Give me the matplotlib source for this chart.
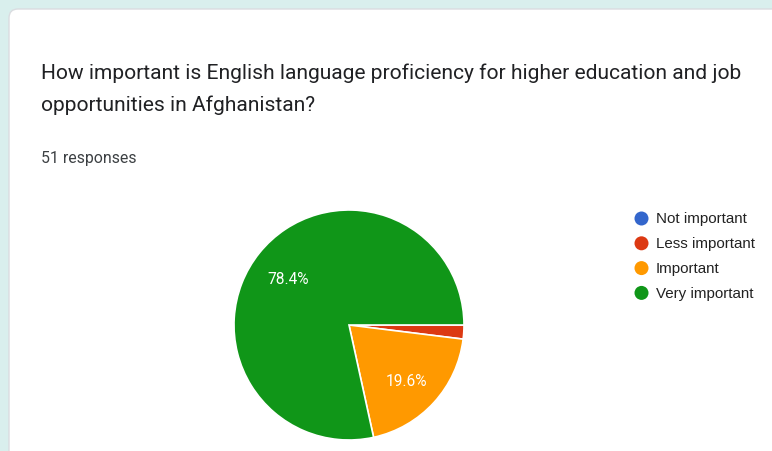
import matplotlib.pyplot as plt
from matplotlib.patches import FancyBboxPatch, Circle

# --- data ---
title_lines = ["How important is English language proficiency for higher education and job",
               "opportunities in Afghanistan?"]
n_responses = 51
labels = ["Not important", "Less important", "Important", "Very important"]
counts = [0, 1, 10, 40]
colors = ["#3366cc", "#dc3912", "#ff9900", "#109618"]

W, H = 772, 452
fig = plt.figure(figsize=(W / 100, H / 100), dpi=100)
fig.patch.set_facecolor("#d9efed")

# overlay axes in pixel coordinates
bg = fig.add_axes([0, 0, 1, 1])
bg.set_xlim(0, W)
bg.set_ylim(H, 0)
bg.axis("off")

card = FancyBboxPatch((9, 10), W + 40, H + 40, boxstyle="round,pad=0,rounding_size=9",
                      facecolor="white", edgecolor="#dadce0", linewidth=1)
bg.add_patch(card)

for i, line in enumerate(title_lines):
    bg.text(41, 79 + i * 32, line, fontsize=15.1, family="Roboto", color="#202124",
            va="baseline", ha="left")
bg.text(41, 163, f"{n_responses} responses", fontsize=11.4, family="Roboto",
        color="#3c4043", va="baseline", ha="left")

# legend
for i, (lab, col) in enumerate(zip(labels, colors)):
    y = 219.5 + i * 24.8
    bg.add_patch(Circle((641.5, y), 7, facecolor=col, edgecolor="none"))
    bg.text(656, y, lab, fontsize=10.9, family="Liberation Sans", color="#222222",
            va="center", ha="left")

# pie
cx, cy, r = 349, 326, 115
pax = fig.add_axes([(cx - r) / W, (H - cy - r) / H, 2 * r / W, 2 * r / H])
vals = [c for c in counts if c > 0]
cols = [col for c, col in zip(counts, colors) if c > 0]


def pct(p):
    return f"{p:.1f}%" if p >= 5 else ""


wedges, texts, autotexts = pax.pie(vals, colors=cols, startangle=0, counterclock=False,
                                   autopct=pct, pctdistance=0.68,
                                   wedgeprops=dict(edgecolor="white", linewidth=1.2),
                                   textprops=dict(color="white", fontsize=11.2,
                                                  family="Roboto"))
for t in autotexts:
    x, y = t.get_position()
    t.set_position((x, y - 0.025))
pax.set_xlim(-1, 1)
pax.set_ylim(-1, 1)

fig.savefig("out.png", dpi=100, facecolor=fig.get_facecolor())
